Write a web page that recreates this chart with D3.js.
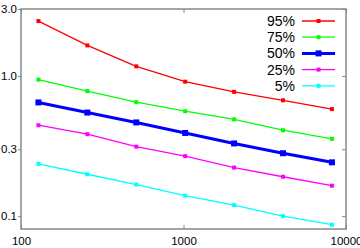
<!DOCTYPE html>
<html>
<head>
<meta charset="utf-8">
<script src="https://cdn.jsdelivr.net/npm/d3@7"></script>
<style>
  body { margin: 0; background: #fff; }
  svg { display: block; font-family: "Liberation Sans", Arial, sans-serif; }
</style>
</head>
<body>
<div id="chart"></div>
<script>
// sizes along x (log scale)
const sizes = [128, 256, 512, 1024, 2048, 4096, 8192];
const xTicks = [100, 1000, 10000];
const yTicks = [0.1, 0.3, 1.0, 3.0];

// percentile series
const p95 = [2.46, 1.65, 1.17, 0.91, 0.77, 0.67, 0.58];
const p75 = [0.94, 0.78, 0.65, 0.56, 0.49, 0.41, 0.356];
const p50 = [0.647, 0.548, 0.466, 0.392, 0.33, 0.281, 0.242];
const p25 = [0.445, 0.384, 0.313, 0.268, 0.222, 0.191, 0.165];
const p05 = [0.236, 0.199, 0.168, 0.14, 0.12, 0.1, 0.087];

const seriesNames = ["95%", "75%", "50%", "25%", "5%"];
const seriesColors = ["#ff0000", "#00ff00", "#0000ff", "#ff00ff", "#00ffff"];
const seriesValues = [p95, p75, p50, p25, p05];

const W = 360, H = 248;
const margin = { top: 9, right: 14, bottom: 19, left: 21 };

const svg = d3.select("#chart").append("svg")
  .attr("width", W)
  .attr("height", H);

const x = d3.scaleLog().domain([100, 10000]).range([margin.left, W - margin.right]);
const y = d3.scaleLog().domain([0.081, 3.0]).range([H - margin.bottom, margin.top]);

const axisColor = "#888";

// frame
svg.append("rect")
  .attr("x", margin.left)
  .attr("y", margin.top)
  .attr("width", W - margin.right - margin.left)
  .attr("height", H - margin.bottom - margin.top)
  .attr("fill", "none")
  .attr("stroke", axisColor)
  .attr("stroke-width", 1.5);

// left axis, ticks outward
const yAxis = svg.append("g")
  .attr("transform", `translate(${margin.left},0)`)
  .call(d3.axisLeft(y).tickValues(yTicks).tickFormat(d3.format(".1f")).tickSize(3).tickPadding(1));
yAxis.select(".domain").remove();
yAxis.selectAll("line").attr("stroke", axisColor);
yAxis.selectAll("text").attr("font-size", 11.5).attr("fill", "#000");

// right axis, ticks inward
const yAxisR = svg.append("g")
  .attr("transform", `translate(${W - margin.right},0)`)
  .call(d3.axisLeft(y).tickValues(yTicks).tickFormat("").tickSize(4));
yAxisR.select(".domain").remove();
yAxisR.selectAll("line").attr("stroke", axisColor);

// bottom axis, ticks inward
const xAxis = svg.append("g")
  .attr("transform", `translate(0,${H - margin.bottom})`)
  .call(d3.axisBottom(x).tickValues(xTicks).tickFormat(d3.format("d")).tickSizeInner(-4).tickSizeOuter(0).tickPadding(8));
xAxis.select(".domain").remove();
xAxis.selectAll("line").attr("stroke", axisColor);
xAxis.selectAll("text").attr("font-size", 11.5).attr("fill", "#000");

// top axis, ticks inward
const xAxisT = svg.append("g")
  .attr("transform", `translate(0,${margin.top})`)
  .call(d3.axisBottom(x).tickValues(xTicks).tickFormat("").tickSize(4));
xAxisT.select(".domain").remove();
xAxisT.selectAll("line").attr("stroke", axisColor);

const line = d3.line()
  .x((d, i) => x(sizes[i]))
  .y(d => y(d));

seriesValues.forEach((vals, k) => {
  const bold = k === 2;
  const g = svg.append("g");
  g.append("path")
    .datum(vals)
    .attr("d", line)
    .attr("fill", "none")
    .attr("stroke", seriesColors[k])
    .attr("stroke-width", bold ? 3 : 1.3);
  const s = bold ? 6 : 4;
  g.selectAll("rect")
    .data(vals)
    .join("rect")
    .attr("x", (d, i) => x(sizes[i]) - s / 2)
    .attr("y", d => y(d) - s / 2)
    .attr("width", s)
    .attr("height", s)
    .attr("fill", seriesColors[k]);
});

// legend
const legend = svg.append("g");
seriesNames.forEach((name, k) => {
  const bold = k === 2;
  const ly = 21 + k * 16.2;
  legend.append("text")
    .attr("x", 295)
    .attr("y", ly)
    .attr("dy", "0.35em")
    .attr("text-anchor", "end")
    .attr("font-size", 14)
    .text(name);
  legend.append("line")
    .attr("x1", 302).attr("x2", 335)
    .attr("y1", ly).attr("y2", ly)
    .attr("stroke", seriesColors[k])
    .attr("stroke-width", bold ? 3 : 1.3);
  const s = bold ? 6 : 4;
  legend.append("rect")
    .attr("x", 318.5 - s / 2)
    .attr("y", ly - s / 2)
    .attr("width", s)
    .attr("height", s)
    .attr("fill", seriesColors[k]);
});
</script>
</body>
</html>
